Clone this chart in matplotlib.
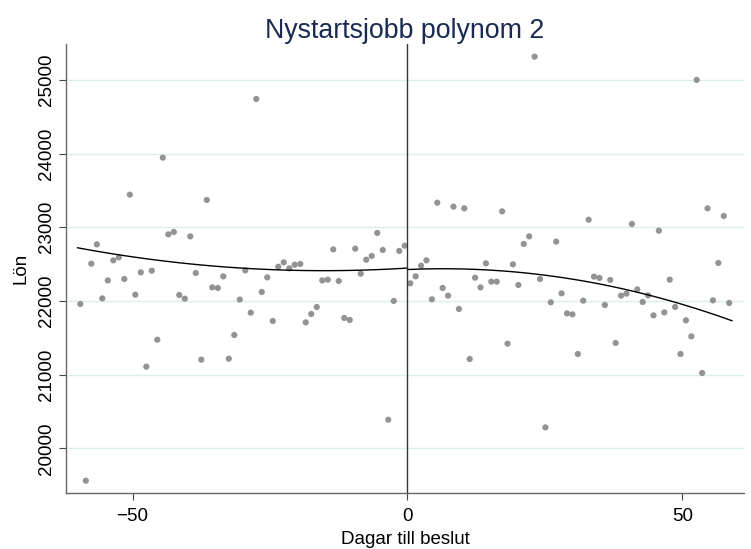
import matplotlib
matplotlib.use("Agg")
import matplotlib.pyplot as plt
import numpy as np

# days before / after the decision (marker positions)
days_before = np.arange(-59.5, 0, 1.0)
days_after = np.linspace(0.5, 58.5, 60)

# mean wage (Lön) per day
lon_before = [21959, 19560, 22506, 22768, 22035, 22279, 22551, 22592, 22298, 23443,
              22085, 22388, 21108, 22411, 21474, 23945, 22904, 22936, 22081, 22031,
              22877, 22380, 21203, 23371, 22184, 22176, 22334, 21216, 21538, 22019,
              22415, 21841, 24742, 22122, 22320, 21728, 22465, 22524, 22443, 22492,
              22502, 21709, 21823, 21918, 22279, 22289, 22700, 22271, 21769, 21742,
              22710, 22370, 22560, 22611, 22923, 22692, 20388, 22000, 22679, 22750]
lon_after = [22239, 22334, 22479, 22551, 22022, 23334, 22176, 22072, 23280, 21891,
             23257, 21212, 22316, 22184, 22510, 22262, 22262, 23216, 21420, 22497,
             22217, 22774, 22877, 25316, 22298, 20284, 21981, 22805, 22103, 21831,
             21818, 21280, 22004, 23103, 22330, 22312, 21945, 22285, 21430, 22072,
             22099, 23045, 22157, 21986, 22076, 21804, 22954, 21845, 22289, 21918,
             21280, 21737, 21519, 25000, 21022, 23257, 22008, 22516, 23154, 21973]

# second-degree polynomial fit
fit_days_before = [-60, -45, -30, -15, 0]
fit_lon_before = [22719, 22555, 22442, 22409, 22448]
fit_days_after = [0, 15, 30, 45, 59]
fit_lon_after = [22426, 22419, 22296, 22057, 21732]

title = "Nystartsjobb polynom 2"
xlabel = "Dagar till beslut"
ylabel = "Lön"
xticks = [-50, 0, 50]
yticks = [20000, 21000, 22000, 23000, 24000, 25000]

plt.rcParams['font.family'] = ['Liberation Sans', 'DejaVu Sans']

fig = plt.figure(figsize=(7.51, 5.49), dpi=100)
ax = fig.add_axes([0.0879, 0.102, 0.9028, 0.818])

for y in yticks:
    ax.axhline(y, color='#dcedf0', lw=1.0, zorder=0)

ax.scatter(days_before, lon_before, s=20, color='#939393', edgecolors='none', zorder=2)
ax.scatter(days_after, lon_after, s=20, color='#939393', edgecolors='none', zorder=2)

# smooth quadratic through the read curve points on each side of the cutoff
for d, v in [(fit_days_before, fit_lon_before), (fit_days_after, fit_lon_after)]:
    coef = np.polyfit(d, v, 2)
    xs = np.linspace(d[0], d[-1], 100)
    ax.plot(xs, np.polyval(coef, xs), color='black', lw=1.0, zorder=3)

ax.axvline(0, color='#333333', lw=1.0, zorder=4)

ax.set_xlim(-62.1, 61.2)
ax.set_ylim(19393, 25489)
ax.set_xticks(xticks)
ax.set_yticks(yticks)
ax.set_yticklabels([str(t) for t in yticks], rotation=90, va='center')

for s in ['top', 'right']:
    ax.spines[s].set_visible(False)
for s in ['left', 'bottom']:
    ax.spines[s].set_color('#666666')
    ax.spines[s].set_linewidth(1.0)

ax.tick_params(axis='both', direction='out', length=5, width=0.8, color='#444444',
               labelsize=13.5)
ax.tick_params(axis='x', pad=6)
ax.tick_params(axis='y', pad=3)
ax.set_xlabel(xlabel, fontsize=13.5, labelpad=4)
ax.set_ylabel(ylabel, fontsize=13.5, labelpad=6)
ax.set_title(title, fontsize=19.3, color='#1a2a52', pad=4)

fig.savefig("out.png", dpi=100)
